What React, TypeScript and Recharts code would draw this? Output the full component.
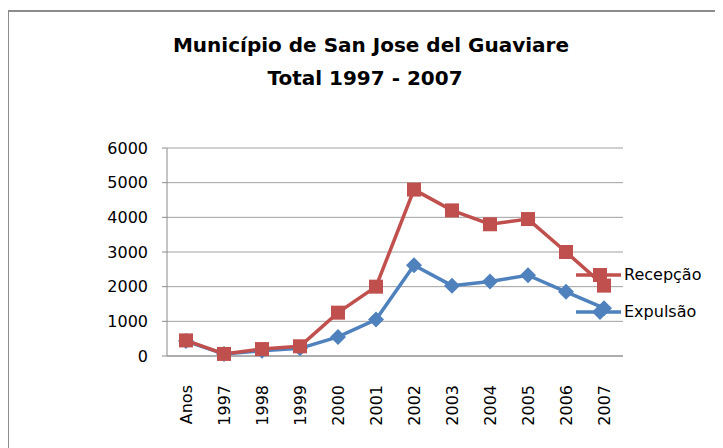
import React from 'react';
import { LineChart, Line, XAxis, YAxis, CartesianGrid } from 'recharts';

const years = ['Anos', '1997', '1998', '1999', '2000', '2001', '2002', '2003', '2004', '2005', '2006', '2007'];
const recepcao = [450, 60, 200, 280, 1250, 2000, 4800, 4200, 3800, 3950, 3000, 2030];
const expulsao = [430, 60, 150, 220, 550, 1050, 2620, 2030, 2150, 2330, 1850, 1380];
const yTicks = [0, 1000, 2000, 3000, 4000, 5000, 6000];

const RED = '#C0504D';
const BLUE = '#4F81BD';
const FONT = '"DejaVu Sans", sans-serif';

const data = years.map((year, i) => ({ year, recepcao: recepcao[i], expulsao: expulsao[i] }));

const SquareDot = (props: any) => {
  const { cx, cy } = props;
  if (cx == null || cy == null) return null;
  return <rect x={cx - 7} y={cy - 7} width={14} height={14} fill={RED} />;
};

const DiamondDot = (props: any) => {
  const { cx, cy } = props;
  if (cx == null || cy == null) return null;
  return <polygon points={`${cx},${cy - 8} ${cx + 8},${cy} ${cx},${cy + 8} ${cx - 8},${cy}`} fill={BLUE} />;
};

const XTick = (props: any) => {
  const { x, y, payload } = props;
  return (
    <text
      x={x}
      y={y + 21}
      transform={`rotate(-90, ${x}, ${y + 21})`}
      textAnchor="end"
      dy="0.36em"
      fontFamily={FONT}
      fontSize={16}
      fill="#000"
    >
      {payload.value}
    </text>
  );
};

const legendItems = [
  { name: 'Recepção', color: RED, shape: 'square' },
  { name: 'Expulsão', color: BLUE, shape: 'diamond' },
];

const App: React.FC = () => {
  return (
    <div
      style={{
        position: 'relative',
        marginLeft: -1,
        marginTop: 2,
        width: 714,
        height: 436,
        borderTop: '2px solid #8c8c8c',
        borderLeft: '2px solid #8c8c8c',
        background: '#fff',
      }}
    >
      <div
        style={{
          position: 'absolute', left: 62, top: 23, width: 600, textAlign: 'center',
          fontFamily: FONT, fontWeight: 'bold', fontSize: 20, lineHeight: '20px', color: '#000',
        }}
      >
        Município de San Jose del Guaviare
      </div>
      <div
        style={{
          position: 'absolute', left: 56, top: 56, width: 600, textAlign: 'center',
          fontFamily: FONT, fontWeight: 'bold', fontSize: 20, lineHeight: '20px', color: '#000',
        }}
      >
        Total 1997 - 2007
      </div>
      <div style={{ position: 'absolute', left: 0, top: 0 }}>
        <LineChart width={714} height={436} data={data} margin={{ top: 136, right: 100, left: 98, bottom: 22 }}>
          <CartesianGrid vertical={false} stroke="#a0a0a0" strokeWidth={1} />
          <XAxis
            dataKey="year"
            interval={0}
            height={70}
            padding={{ left: 19, right: 19 }}
            tickLine={false}
            axisLine={{ stroke: '#8c8c8c' }}
            tick={<XTick />}
          />
          <YAxis
            domain={[0, 6000]}
            ticks={yTicks}
            width={60}
            tickSize={5}
            tickMargin={14}
            tickLine={{ stroke: '#8c8c8c' }}
            axisLine={{ stroke: '#8c8c8c' }}
            tick={{ fontFamily: FONT, fontSize: 16, fill: '#000' }}
          />
          <Line
            dataKey="expulsao"
            name="Expulsão"
            stroke={BLUE}
            strokeWidth={3.5}
            dot={<DiamondDot />}
            activeDot={false}
            isAnimationActive={false}
          />
          <Line
            dataKey="recepcao"
            name="Recepção"
            stroke={RED}
            strokeWidth={3.5}
            dot={<SquareDot />}
            activeDot={false}
            isAnimationActive={false}
          />
        </LineChart>
      </div>
      <div style={{ position: 'absolute', left: 567, top: 244 }}>
        {legendItems.map((item) => (
          <div key={item.name} style={{ display: 'flex', alignItems: 'center', height: 37 }}>
            <svg width={48} height={20}>
              <line x1={0} y1={10} x2={45} y2={10} stroke={item.color} strokeWidth={3.5} />
              {item.shape === 'square' ? (
                <rect x={17} y={3} width={14} height={14} fill={item.color} />
              ) : (
                <polygon points="24,2 32,10 24,18 16,10" fill={item.color} />
              )}
            </svg>
            <span style={{ fontFamily: FONT, fontSize: 16, color: '#000' }}>{item.name}</span>
          </div>
        ))}
      </div>
    </div>
  );
};

export default App;
